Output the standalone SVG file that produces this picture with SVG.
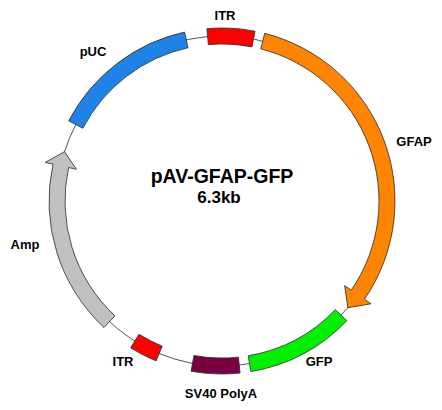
<svg xmlns="http://www.w3.org/2000/svg" width="442" height="410" viewBox="0 0 442 410">
<style>
.bb{fill:none;stroke:#555;stroke-width:1}
.f{stroke:#2a2a2a;stroke-width:0.8;stroke-linejoin:miter}
.lbl{font-family:"Liberation Sans",Arial,sans-serif;font-size:13px;font-weight:bold;fill:#000;text-anchor:middle}
.ttl{font-family:"Liberation Sans",Arial,sans-serif;font-weight:bold;fill:#000;text-anchor:middle}
</style>
<rect width="442" height="410" fill="#fff"/>
<g id="connectors">
<circle class="bb" cx="222" cy="201" r="165"/>
</g>
<g id="ITR-top">
<path class="f" fill="#ff0000" d="M 206.92 28.66 A 173 173 0 0 1 255.01 31.18 L 251.96 46.88 A 157 157 0 0 0 208.32 44.60 Z"/>
<text class="lbl" x="225" y="20">ITR</text>
</g>
<g id="GFAP">
<path class="f" fill="#ff8400" d="M 264.73 33.36 A 173 173 0 0 1 364.40 299.24 L 370.99 303.78 L 347.85 307.72 L 344.65 285.61 L 351.23 290.15 A 157 157 0 0 0 260.78 48.86 Z"/>
<text class="lbl" x="414" y="146">GFAP</text>
</g>
<g id="GFP">
<path class="f" fill="#00f000" d="M 346.86 320.74 A 173 173 0 0 1 250.85 371.58 L 248.18 355.80 A 157 157 0 0 0 335.32 309.67 Z"/>
<text class="lbl" x="319" y="366">GFP</text>
</g>
<g id="SV40PolyA">
<path class="f" fill="#7a0040" d="M 240.08 373.05 A 173 173 0 0 1 191.07 371.21 L 193.93 355.47 A 157 157 0 0 0 238.41 357.14 Z"/>
<text class="lbl" x="221" y="398">SV40 PolyA</text>
</g>
<g id="ITR-bottom">
<path class="f" fill="#ff0000" d="M 156.07 360.95 A 173 173 0 0 1 130.58 347.87 L 139.03 334.29 A 157 157 0 0 0 162.17 346.15 Z"/>
<text class="lbl" x="123" y="366">ITR</text>
</g>
<g id="Amp">
<path class="f" fill="#c0c0c0" d="M 104.01 327.52 A 173 173 0 0 1 52.97 164.15 L 45.15 162.44 L 64.55 151.66 L 76.42 169.26 L 68.60 167.55 A 157 157 0 0 0 114.93 315.82 Z"/>
<text class="lbl" x="25" y="249">Amp</text>
</g>
<g id="pUC">
<path class="f" fill="#1e82e6" d="M 68.69 120.85 A 173 173 0 0 1 184.56 32.10 L 188.02 47.72 A 157 157 0 0 0 82.87 128.26 Z"/>
<text class="lbl" x="93" y="56">pUC</text>
</g>
<g id="title">
<text class="ttl" x="222" y="183" font-size="19.5">pAV-GFAP-GFP</text>
<text class="ttl" x="219" y="203" font-size="17">6.3kb</text>
</g>
</svg>
